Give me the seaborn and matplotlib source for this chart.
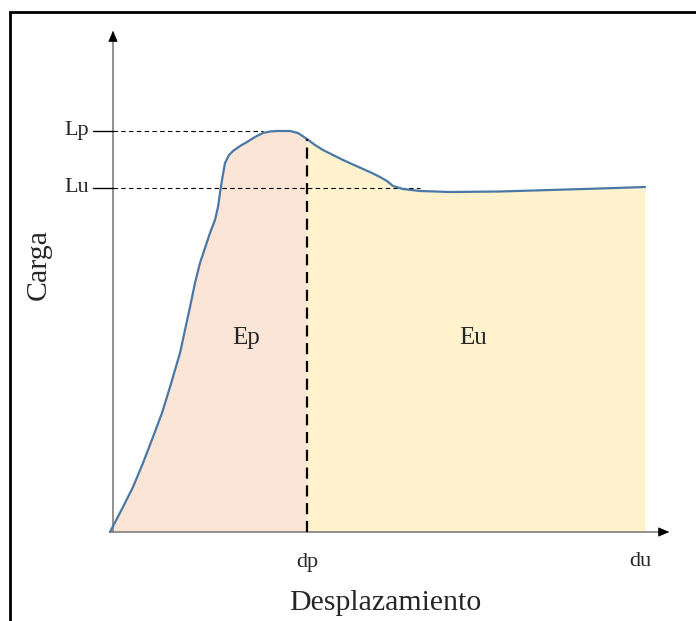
import matplotlib
matplotlib.use("Agg")
import matplotlib.pyplot as plt
import seaborn as sns
import numpy as np
import pandas as pd

# ---- data (arbitrary units) ----
desplazamiento = [0, .13, .23, .33, .43, .52, .60, .65, .70, .75, .80, .85, .90, .95,
                  1.00, 1.05, 1.08, 1.10, 1.12, 1.15, 1.19,
                  1.23, 1.30, 1.37, 1.45, 1.53, 1.60, 1.67, 1.80, 1.88, 1.97, 2.05, 2.13,
                  2.23, 2.33, 2.43, 2.53, 2.62, 2.70, 2.77, 2.83, 2.93, 3.10, 3.40, 3.90,
                  4.40, 4.90, 5.35]
carga = [0, .25, .45, .69, .95, 1.19, 1.45, 1.62, 1.79, 2.02, 2.25, 2.49, 2.69, 2.84,
         2.99, 3.12, 3.25, 3.39, 3.52, 3.69, 3.77,
         3.81, 3.86, 3.90, 3.95, 3.99, 4.005, 4.01, 4.01, 3.99, 3.93, 3.87, 3.82,
         3.77, 3.72, 3.675, 3.63, 3.59, 3.55, 3.51, 3.46, 3.43, 3.41, 3.40, 3.405,
         3.42, 3.435, 3.45]
Lp, Lu = 4.01, 3.44
dp, du = 1.97, 5.35
Lu_end = 3.10   # where Lu guide line ends
Lp_end = 1.53   # where Lp guide line ends
y_labels = ["Lp", "Lu"]
x_labels = ["dp", "du"]
area_labels = ["Ep", "Eu"]

df = pd.DataFrame({"x": desplazamiento, "y": carga})

sns.set_style("white")
plt.rcParams["font.family"] = ["Liberation Serif", "DejaVu Serif"]

fig = plt.figure(figsize=(6.96, 6.21), dpi=100)
ax = fig.add_axes([0, 0, 1, 1])
ax.set_xlim(-1.10, 5.86)
ax.set_ylim(-0.89, 5.32)
ax.axis("off")

x = np.array(desplazamiento)
y = np.array(carga)
ax.fill_between(x, 0, y, where=x <= dp + 1e-9, color="#FBE5D6", lw=0, zorder=1)
ax.fill_between(x, 0, y, where=x >= dp - 1e-9, color="#FFF2CC", lw=0, zorder=1)

sns.lineplot(data=df, x="x", y="y", ax=ax, color="#4A78A6", lw=1.6, sort=False,
             estimator=None, zorder=4)

# axes with arrows
ax.plot([0.03, 0.03], [0, 4.95], color="#7F7F7F", lw=1.2, zorder=3)
ax.annotate("", xy=(0.03, 5.04), xytext=(0.03, 4.90),
            arrowprops=dict(arrowstyle="-|>,head_length=0.7,head_width=0.3",
                            color="black", lw=0.5), zorder=5)
ax.plot([0, 5.52], [0, 0], color="#7F7F7F", lw=1.2, zorder=3)
ax.annotate("", xy=(5.62, 0), xytext=(5.48, 0),
            arrowprops=dict(arrowstyle="-|>,head_length=0.7,head_width=0.3",
                            color="black", lw=0.5), zorder=5)

# guide lines
for val, end in zip([Lp, Lu], [Lp_end, Lu_end]):
    ax.plot([-0.17, 0.03], [val, val], color="black", lw=1.0, zorder=3)
    ax.plot([0.03, end], [val, val], color="black", lw=0.8, ls=(0, (4, 3)), zorder=3)
ax.plot([dp, dp], [0, 3.93], color="black", lw=1.6, ls=(0, (5, 3)), zorder=5)

# labels
for lab, val in zip(y_labels, [Lp, Lu]):
    ax.text(-0.21, val, lab, ha="right", va="center", fontsize=16)
for lab, val in zip(x_labels, [dp, du - 0.05]):
    ax.text(val, -0.30, lab, ha="center", va="center", fontsize=16)
ax.text(1.36, 1.94, area_labels[0], ha="center", va="center", fontsize=18)
ax.text(3.63, 1.94, area_labels[1], ha="center", va="center", fontsize=18)
ax.text(2.75, -0.71, "Desplazamiento", ha="center", va="center", fontsize=21.5)
ax.text(-0.71, 2.67, "Carga", ha="center", va="center", fontsize=21.5, rotation=90)

# frame (left and top visible)
ax.plot([-1.00, -1.00, 5.90], [-0.95, 5.20, 5.20], color="black", lw=2.0,
        clip_on=False, solid_joinstyle="miter")

fig.savefig("out.png", dpi=100)
